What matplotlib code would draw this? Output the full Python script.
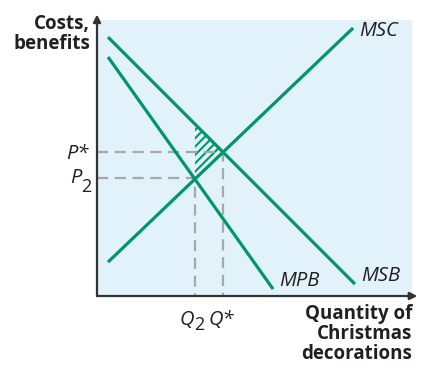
import matplotlib
matplotlib.use('Agg')
import matplotlib.pyplot as plt

# curve end points (quantity, cost) in chart units
msc_q = [0.35, 8.13]
msc_c = [1.23, 9.71]
msb_q = [0.35, 8.19]
msb_c = [9.38, 0.43]
mpb_q = [0.35, 5.59]
mpb_c = [8.66, 0.25]

q_star, p_star = 4.0, 5.22
q_two, p_two = 3.11, 4.28

curve_labels = ["MSC", "MSB", "MPB"]

green = '#00966a'
grey = '#a8a8a8'
ink = '#231f20'

plt.rcParams['font.family'] = ['Open Sans', 'DejaVu Sans']
plt.rcParams['hatch.linewidth'] = 1.5
plt.rcParams['hatch.color'] = green

fig = plt.figure(figsize=(4.28, 3.68), dpi=100)
# axes box matches the shaded panel
ax = fig.add_axes([97 / 428, 1 - 296 / 368, 315 / 428, 276 / 368])
ax.set_xlim(0, 10)
ax.set_ylim(0, 10)
ax.set_facecolor('#e1f2fa')
for s in ax.spines.values():
    s.set_visible(False)
ax.set_xticks([])
ax.set_yticks([])


def value_at(qs, cs, q):
    return cs[0] + (cs[1] - cs[0]) * (q - qs[0]) / (qs[1] - qs[0])


# dashed guide lines
ax.plot([0, q_star, q_star], [p_star, p_star, 0], ls=(0, (5, 3)), color=grey, lw=1.6)
ax.plot([0, q_two, q_two], [p_two, p_two, 0], ls=(0, (5, 3)), color=grey, lw=1.6)

# hatched triangle between MSB and MSC from Q2 to Q*
ax.fill([q_two, q_two, q_star],
        [value_at(msc_q, msc_c, q_two), value_at(msb_q, msb_c, q_two), p_star],
        facecolor='none', edgecolor=green, hatch='////', lw=0)

for qs, cs in [(msc_q, msc_c), (msb_q, msb_c), (mpb_q, mpb_c)]:
    ax.plot(qs, cs, color=green, lw=2.3, solid_capstyle='butt')

lab_kw = dict(fontsize=14.5, style='italic', color=ink, clip_on=False)
sub_kw = dict(fontsize=13, color=ink, clip_on=False, ha='left', va='baseline')
ax.text(msc_q[1] + 0.2, msc_c[1] - 0.1, curve_labels[0], ha='left', va='center', **lab_kw)
ax.text(msb_q[1] + 0.2, msb_c[1] - 0.05, curve_labels[1], ha='left', va='bottom', **lab_kw)
ax.text(mpb_q[1] + 0.2, mpb_c[1] - 0.07, curve_labels[2], ha='left', va='bottom', **lab_kw)

# axis arrows
arrow_kw = dict(arrowstyle='-|>', color='#333333', lw=1.6,
                mutation_scale=11, shrinkA=0, shrinkB=0)
ax.annotate('', xy=(0, 10.2), xytext=(0, 0), annotation_clip=False, arrowprops=arrow_kw)
ax.annotate('', xy=(10.17, 0), xytext=(0, 0), annotation_clip=False, arrowprops=arrow_kw)

# price labels
ax.text(-0.28, p_star - 0.25, 'P*', ha='right', va='baseline', **lab_kw)
ax.text(-0.5, p_two - 0.2, 'P', ha='right', va='baseline', **lab_kw)
ax.text(-0.5, p_two - 0.5, '2', **sub_kw)
# quantity labels
ax.text(q_two - 0.02, -1.05, 'Q', ha='right', va='baseline', **lab_kw)
ax.text(q_two - 0.02, -1.25, '2', **sub_kw)
ax.text(q_star - 0.47, -1.05, 'Q*', ha='left', va='baseline', **lab_kw)

ax.text(-0.22, 10.2, 'Costs,\nbenefits', ha='right', va='top', fontsize=13.5,
        fontweight='bold', color=ink, linespacing=1.0, clip_on=False)
ax.text(10.0, -0.3, 'Quantity of\nChristmas\ndecorations', ha='right', va='top',
        fontsize=13.5, fontweight='bold', color=ink, linespacing=1.0, clip_on=False)

fig.savefig('out.png', dpi=100)
